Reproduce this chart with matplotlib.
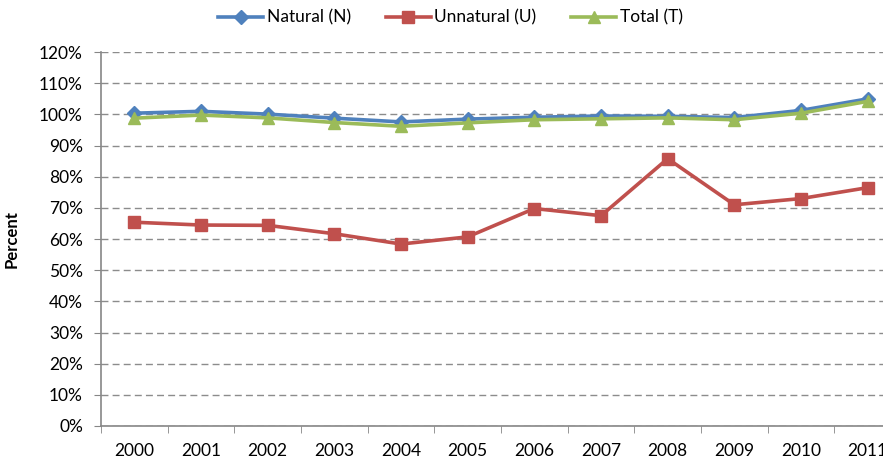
import matplotlib
matplotlib.use("Agg")
import matplotlib.pyplot as plt
import matplotlib.ticker as ticker

# values (percent)
years = ["2000", "2001", "2002", "2003", "2004", "2005",
         "2006", "2007", "2008", "2009", "2010", "2011"]
natural = [100.4, 101.0, 100.1, 98.8, 97.6, 98.5,
           99.1, 99.5, 99.4, 99.0, 101.3, 105.0]
unnatural = [65.4, 64.5, 64.4, 61.7, 58.4, 60.7,
             69.8, 67.5, 85.8, 71.0, 73.0, 76.5]
total = [98.8, 99.8, 98.9, 97.4, 96.2, 97.3,
         98.3, 98.6, 98.9, 98.3, 100.4, 104.2]
y_ticks = list(range(0, 121, 10))

plt.rcParams["font.family"] = ["Lato", "DejaVu Sans"]

fig = plt.figure(figsize=(8.83, 4.65), dpi=100)
ax = fig.add_axes([0.1144, 0.0839, 0.906, 0.804])

x = list(range(len(years)))
ax.plot(x, natural, color="#4F81BD", lw=2.6, marker="D", ms=7,
        label="Natural (N)", zorder=3)
ax.plot(x, unnatural, color="#C0504D", lw=2.6, marker="s", ms=9,
        label="Unnatural (U)", zorder=3)
ax.plot(x, total, color="#9BBB59", lw=2.6, marker="^", ms=9,
        label="Total (T)", zorder=4)

ax.set_xlim(-0.5, len(years) - 0.5)
ax.set_ylim(0, 120)
ax.set_yticks(y_ticks)
ax.yaxis.set_major_formatter(ticker.FuncFormatter(lambda v, p: f"{v:.0f}%"))
ax.set_xticks(x)
ax.set_xticklabels(years)
ax.xaxis.set_minor_locator(ticker.FixedLocator([i - 0.5 for i in range(len(years) + 1)]))
ax.tick_params(axis="x", which="major", length=0, pad=12, labelsize=12.5)
ax.tick_params(axis="x", which="minor", length=5, color="#868686", direction="out")
ax.tick_params(axis="y", length=5, color="#868686", labelsize=12.5, pad=8)

ax.grid(axis="y", color="#8C8C8C", linestyle=(0, (5, 3)), linewidth=1)
ax.set_axisbelow(True)
for side in ["top", "right"]:
    ax.spines[side].set_visible(False)
for side in ["left", "bottom"]:
    ax.spines[side].set_color("#868686")
    ax.spines[side].set_linewidth(1.2)

ax.set_ylabel("Percent", fontsize=12, fontweight="bold", labelpad=14)

fig.legend(loc="center", bbox_to_anchor=(0.51, 0.962), ncol=3, frameon=False,
           fontsize=12.5, handlelength=2.6, columnspacing=2.0, handletextpad=0.2)

fig.savefig("out.png", dpi=100)
